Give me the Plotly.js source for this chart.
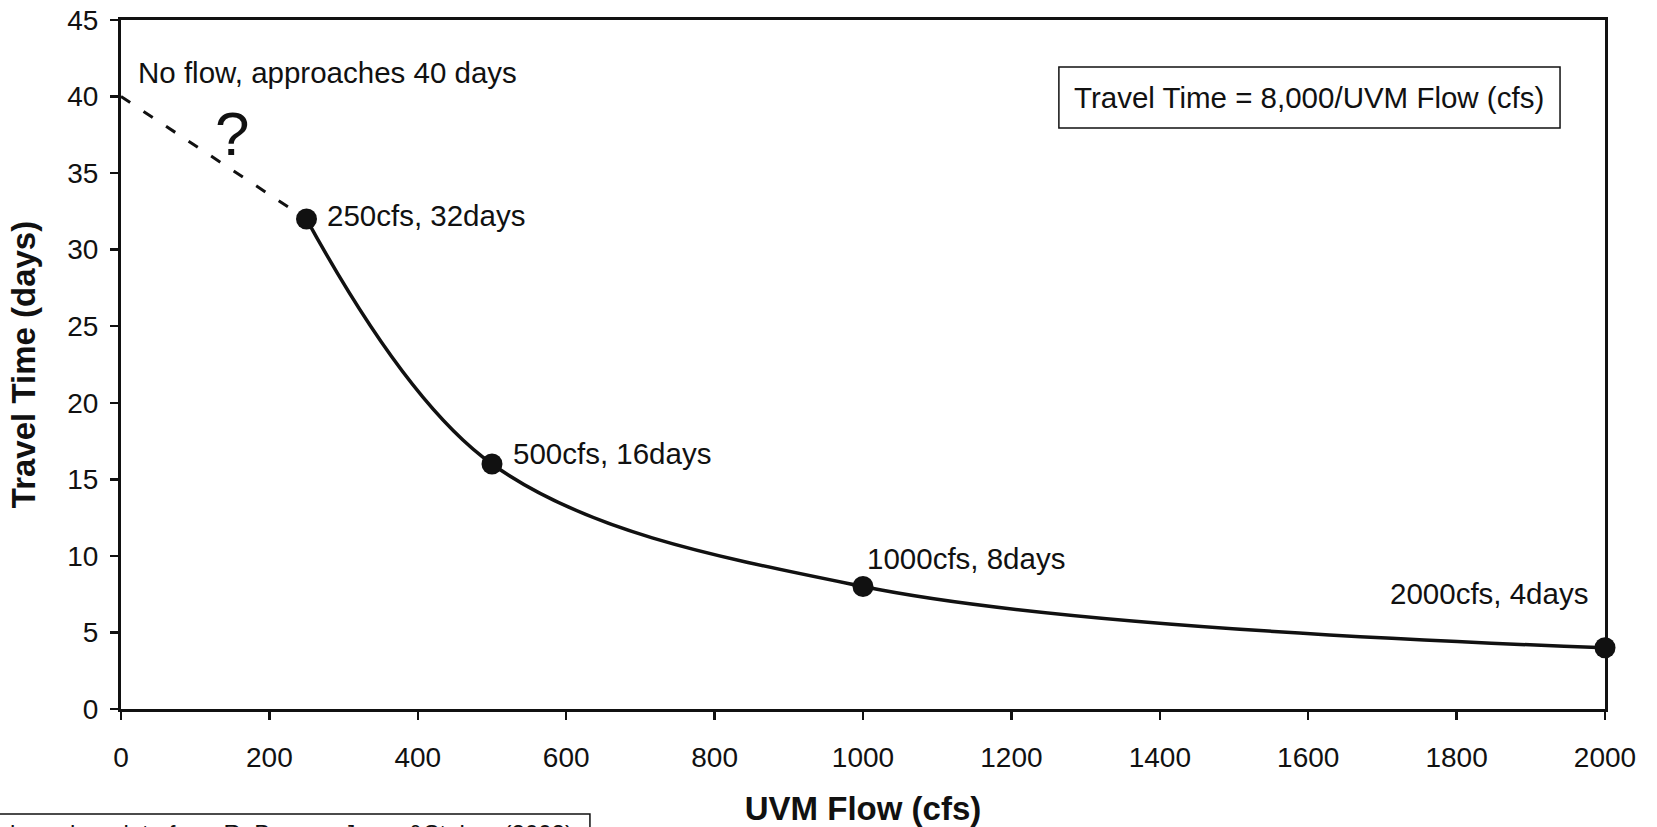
<!DOCTYPE html>
<html>
<head>
<meta charset="utf-8">
<script src="https://cdn.plot.ly/plotly-3.0.1.min.js"></script>
<style>html,body{margin:0;padding:0;background:#fff;}#chart{width:1657px;height:827px;}</style>
</head>
<body>
<div id="chart"></div>
<script>
// ---- data ----
const flowCfs = [250, 500, 1000, 2000];
const travelDays = [32, 16, 8, 4];
const noFlowX = [0, 250];
const noFlowY = [40, 32];
const xTickVals = [0, 200, 400, 600, 800, 1000, 1200, 1400, 1600, 1800, 2000];
const yTickVals = [0, 5, 10, 15, 20, 25, 30, 35, 40, 45];
const xTitle = "UVM Flow (cfs)";
const yTitle = "Travel Time (days)";
const noFlowNote = "No flow, approaches 40 days";
const equationNote = "Travel Time = 8,000/UVM Flow (cfs)";
const sourceNote = "based on data from R. Brown - Jones&Stokes (2002)";

const FONT = "Liberation Sans, Arial, Helvetica, sans-serif";
const INK = "#111";

const pointLabels = flowCfs.map((f, i) => `${f}cfs, ${travelDays[i]}days`);
// label placement (offsets in px)
const labelPlace = [
  {xanchor: "left", xshift: 18, yshift: 4},
  {xanchor: "left", xshift: 19, yshift: 11},
  {xanchor: "left", xshift: 2, yshift: 28},
  {xanchor: "right", xshift: -15, yshift: 54}
];

const traces = [
  {
    x: noFlowX, y: noFlowY, type: "scatter", mode: "lines",
    line: {color: INK, width: 3, dash: "11px,16px"},
    hoverinfo: "skip", showlegend: false, cliponaxis: false
  },
  {
    x: flowCfs, y: travelDays, type: "scatter", mode: "lines+markers",
    line: {color: INK, width: 3.5, shape: "spline", smoothing: 1},
    marker: {color: INK, size: 21},
    showlegend: false, cliponaxis: false
  }
];

const annotations = pointLabels.map((t, i) => ({
  x: flowCfs[i], y: travelDays[i], xref: "x", yref: "y",
  text: t, showarrow: false,
  xanchor: labelPlace[i].xanchor, yanchor: "middle",
  xshift: labelPlace[i].xshift, yshift: labelPlace[i].yshift,
  font: {family: FONT, size: 29.5, color: INK}
}));

annotations.push({
  x: 20, y: 41.6, xref: "x", yref: "y", text: noFlowNote, showarrow: false,
  xanchor: "left", yanchor: "middle",
  font: {family: FONT, size: 29.5, color: INK}
});
annotations.push({
  x: 150, y: 37.6, xref: "x", yref: "y", text: "?", showarrow: false,
  xanchor: "center", yanchor: "middle",
  font: {family: FONT, size: 62, color: INK}
});
annotations.push({
  x: 0.8007, y: 0.8876, xref: "paper", yref: "paper", text: equationNote, showarrow: false,
  xanchor: "center", yanchor: "middle",
  font: {family: FONT, size: 29.5, color: INK}
});
annotations.push({
  x: -0.0761, y: -0.1585, xref: "paper", yref: "paper", text: sourceNote, showarrow: false,
  xanchor: "left", yanchor: "top",
  font: {family: FONT, size: 24, color: INK}
});

const shapes = [
  {type: "rect", xref: "paper", yref: "paper", x0: 0.6320, x1: 0.9697, y0: 0.8433, y1: 0.9318,
   line: {color: INK, width: 1.5}, fillcolor: "rgba(0,0,0,0)"},
  {type: "rect", xref: "paper", yref: "paper", x0: -0.0829, x1: 0.316, y0: -0.1524, y1: -0.30,
   line: {color: INK, width: 1.5}, fillcolor: "rgba(0,0,0,0)"}
];

const axisCommon = {
  showgrid: false, zeroline: false, showline: true, linecolor: INK, linewidth: 3,
  mirror: true, ticks: "outside", ticklen: 8, tickwidth: 2.5, tickcolor: INK,
  tickfont: {family: FONT, size: 28, color: INK}
};

const layout = {
  width: 1657, height: 827,
  margin: {l: 121, r: 52, t: 20, b: 118, pad: 0},
  paper_bgcolor: "#fff", plot_bgcolor: "#fff",
  font: {family: FONT, color: INK},
  xaxis: Object.assign({}, axisCommon, {
    range: [0, 2000], tickmode: "array", tickvals: xTickVals,
    ticklabelstandoff: 13,
    title: {text: xTitle, font: {family: FONT, size: 33, color: INK, weight: "bold"}, standoff: 29}
  }),
  yaxis: Object.assign({}, axisCommon, {
    range: [0, 45], tickmode: "array", tickvals: yTickVals,
    ticklabelstandoff: 6,
    title: {text: yTitle, font: {family: FONT, size: 33, color: INK, weight: "bold"}, standoff: 22}
  }),
  annotations: annotations,
  shapes: shapes,
  showlegend: false
};

Plotly.newPlot("chart", traces, layout, {displayModeBar: false, staticPlot: true});
</script>
</body>
</html>
